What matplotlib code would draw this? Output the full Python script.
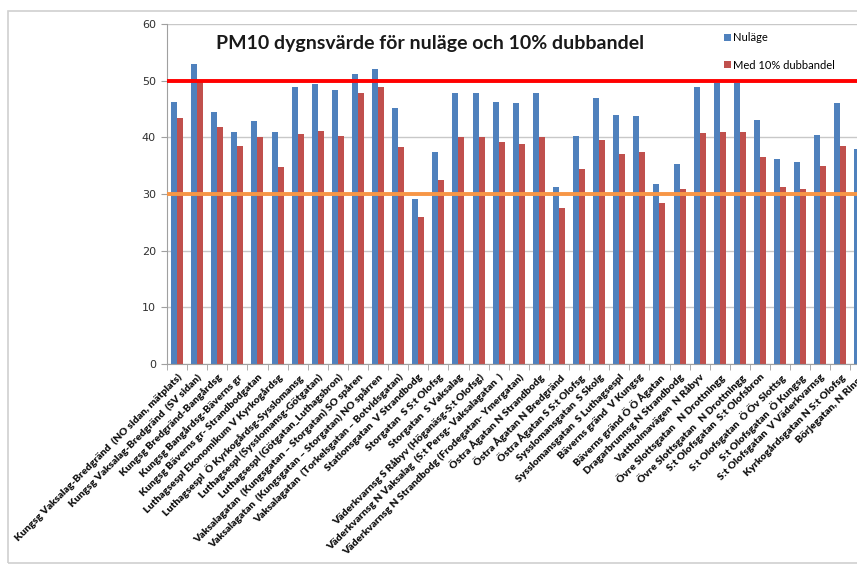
import matplotlib
matplotlib.use('Agg')
import matplotlib.pyplot as plt
import numpy as np
from matplotlib.patches import Rectangle

# gatupunkter (kategorier)
platser = [
    'Kungsg Vaksalag-Bredgränd  (NO sidan, mätplats)',
    'Kungsg Vaksalag-Bredgränd  (SV sidan)',
    'Kungsg Bredgränd-Bangårdsg',
    'Kungsg Bangårdsg-Bäverns gr',
    'Kungsg Bäverns gr- Strandbodgatan',
    'Luthagsespl Ekonomikum V Kyrkogårdsg',
    'Luthagsespl  Ö Kyrkogårdsg-Sysslomansg',
    'Luthagsespl (Sysslomansg-Götgatan)',
    'Luthagsespl (Götgatan_Luthagsbron)',
    'Vaksalagatan  (Kungsgatan – Storgatan) SO spåren',
    'Vaksalagatan  (Kungsgatan – Storgatan) NO spårren',
    'Vaksalagatan  (Torkelsgatan – Botvidsgatan)',
    'Stationsgatan  V Strandbodg',
    'Storgatan  S S:t Olofsg',
    'Storgatan  S Vaksalag',
    'Väderkvarnsg S Råbyv (Höganäsg-S:t Olofsg)',
    'Väderkvarnsg N Vaksalag  (S:t Persg- Vaksalagatan  )',
    'Väderkvarnsg N Strandbodg (Frodegatan- Ymergatan)',
    'Östra Ågatan N Strandbodg',
    'Östra Ågatan N Bredgränd',
    'Östra Ågatan S S:t Olofsg',
    'Sysslomansgatan  S Skolg',
    'Sysslomansgatan  S Luthagsespl',
    'Bäverns gränd  V Kungsg',
    'Bäverns gränd Ö Ö Ågatan',
    'Dragarbrunnsg N Strandbodg',
    'Vattholmavägen  N Råbyv',
    'Övre Slottsgatan   N Drottningg',
    'Övre Slottsgatan   N Drottningg',
    'S:t Olofsgatan  S:t Olofsbron',
    'S:t Olofsgatan  Ö Öv Slottsg',
    'S:t Olofsgatan  Ö Kungsg',
    'S:t Olofsgatan  V Väderkvarnsg',
    'Kyrkogårdsgatan N S:t Olofsg',
    'Börjegatan, N Ringg',
]

# PM10 dygnsvärde, nuläge
nulage = [46.2, 52.9, 44.4, 40.9, 42.8, 40.9, 48.9, 49.4, 48.4, 51.1,
          52.1, 45.2, 29.1, 37.4, 47.9, 47.9, 46.3, 46.1, 47.9, 31.3,
          40.3, 46.9, 43.9, 43.7, 31.8, 35.3, 48.8, 49.6, 49.6, 43.1,
          36.2, 35.7, 40.4, 46.1, 37.9]

# med 10% dubbdäck
med_dubb = [43.5, 50.0, 41.8, 38.4, 40.1, 34.7, 40.6, 41.1, 40.3, 47.8,
            48.9, 38.3, 26.0, 32.4, 40.1, 40.0, 39.2, 38.9, 40.0, 27.5,
            34.4, 39.5, 37.0, 37.5, 28.5, 30.8, 40.7, 41.0, 41.0, 36.6,
            31.3, 30.9, 34.9, 38.5, 32.6]

gransvarde_ovre = 50
gransvarde_undre = 30

W, H = 857, 565
fig = plt.figure(figsize=(W / 100, H / 100), dpi=100)

# ram runt diagrammet
fig.patches.append(Rectangle((8 / W, 1 - 563 / H), 1.2, (563 - 11) / H,
                             transform=fig.transFigure, fill=False,
                             edgecolor='#d0d0d0', linewidth=1.2))

# axeln går utanför bilden till höger, som i originalet
ax = fig.add_axes([167 / W, 1 - 364 / H, 703.5 / W, (364 - 24) / H])

x = np.arange(len(platser))
b = 0.3
ax.bar(x - b / 2, nulage, b, color='#4f81bd', label='Nuläge')
ax.bar(x + b / 2, med_dubb, b, color='#c0504d', label='Med 10% dubbandel')

ax.axhline(gransvarde_ovre, color='#ff0000', linewidth=2.8, zorder=3)
ax.axhline(gransvarde_undre, color='#f79646', linewidth=2.8, zorder=3)

ax.set_xlim(-0.5, len(platser) - 0.5)
ax.set_ylim(0, 60)
ax.set_yticks(range(0, 61, 10))
ax.yaxis.grid(True, color='#c8c8c8', linewidth=1)
ax.set_axisbelow(True)

for s in ['top', 'right']:
    ax.spines[s].set_visible(False)
ax.spines['left'].set_color('#a0a0a0')
ax.spines['bottom'].set_color('#a0a0a0')

ax.tick_params(axis='y', length=4, color='#a0a0a0', labelsize=8,
               labelcolor='#303030', pad=4)
ax.set_xticks(x)
ax.set_xticklabels(platser, rotation=45, ha='right', rotation_mode='anchor',
                   fontsize=7.5, fontweight='heavy', family='Lato',
                   color='#111111')
ax.tick_params(axis='x', length=0, pad=6)
ax.set_xticks(np.arange(-0.5, len(platser), 1), minor=True)
ax.tick_params(axis='x', which='minor', length=4, color='#a0a0a0')

fig.text(430 / W, 1 - 44 / H, 'PM10 dygnsvärde för nuläge och 10% dubbandel',
         ha='center', va='center', fontsize=14, fontweight='bold',
         family='Lato', color='#1a1a1a')

ax.legend(loc='upper left', bbox_to_anchor=(724 / W, 1 - 32 / H),
          bbox_transform=fig.transFigure, frameon=False,
          prop={'family': 'Lato', 'size': 8}, handlelength=0.6,
          handleheight=0.6, handletextpad=0.2, labelspacing=1.5,
          borderaxespad=0, borderpad=0)

fig.savefig('out.png', dpi=100)
